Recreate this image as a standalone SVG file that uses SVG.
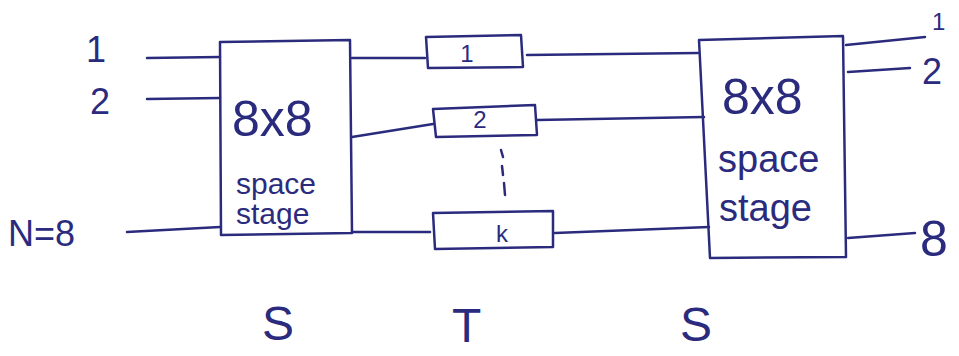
<svg xmlns="http://www.w3.org/2000/svg" width="959" height="356" viewBox="0 0 959 356">
<style>
.box{fill:none;stroke:#2b2b7e;stroke-width:2.5;stroke-linejoin:round}
.ln{fill:none;stroke:#2b2b7e;stroke-width:2.5;stroke-linecap:round}
.t{font-family:"Liberation Sans",Arial,sans-serif;fill:#2b2b7e}
.big{font-size:50px}
.mid{font-size:36px}
.sm{font-size:24px}
.lab{font-size:48px}
</style>
<rect width="959" height="356" fill="#ffffff"/>
<g id="connectors">
<path class="ln" d="M147 58 L220 57"/>
<path class="ln" d="M147 99 L220 98"/>
<path class="ln" d="M127 232 L220 227"/>
<path class="ln" d="M352 58 L425 58"/>
<path class="ln" d="M352 137 L433 124"/>
<path class="ln" d="M352 232 L430 232"/>
<path class="ln" d="M527 55 L698 53"/>
<path class="ln" d="M537 120 L704 117"/>
<path class="ln" d="M555 233 L709 227"/>
<path class="ln" d="M846 45 L925 37"/>
<path class="ln" d="M848 72 L910 68"/>
<path class="ln" d="M848 238 L915 233"/>
</g>
<g id="inputs">
<text class="t mid" x="86" y="62">1</text>
<text class="t mid" x="90" y="114">2</text>
<text class="t mid" x="8" y="246" font-size="40">N=8</text>
</g>
<g id="left-space-stage">
<path class="box" d="M220 42 L350 40 L352 233 L221 235 Z"/>
<text class="t big" x="232" y="136">8x8</text>
<text class="t" x="236" y="194" font-size="30">space</text>
<text class="t" x="236" y="224" font-size="30">stage</text>
</g>
<g id="buffer-1">
<path class="box" d="M426 37 L521 35 L523 67 L428 68 Z"/>
<text class="t sm" x="467" y="62" text-anchor="middle">1</text>
</g>
<g id="buffer-2">
<path class="box" d="M433 109 L535 105 L537 135 L436 137 Z"/>
<text class="t sm" x="480" y="128" text-anchor="middle">2</text>
</g>
<path class="ln" d="M501 150 L503 157 M502 166 L503 175 M504 183 L505 195"/>
<g id="buffer-k">
<path class="box" d="M433 213 L553 211 L553 247 L435 249 Z"/>
<text class="t sm" x="502" y="242" text-anchor="middle">k</text>
</g>
<g id="right-space-stage">
<path class="box" d="M699 40 L843 36 L846 257 L710 258 Z"/>
<text class="t big" x="722" y="114">8x8</text>
<text class="t" x="718" y="172" font-size="38">space</text>
<text class="t" x="719" y="221" font-size="38">stage</text>
</g>
<g id="outputs">
<text class="t sm" x="932" y="30">1</text>
<text class="t mid" x="922" y="84">2</text>
<text class="t big" x="920" y="256">8</text>
</g>
<g id="stage-labels">
<text class="t lab" x="262" y="340">S</text>
<text class="t lab" x="452" y="342">T</text>
<text class="t lab" x="680" y="341">S</text>
</g>
</svg>
